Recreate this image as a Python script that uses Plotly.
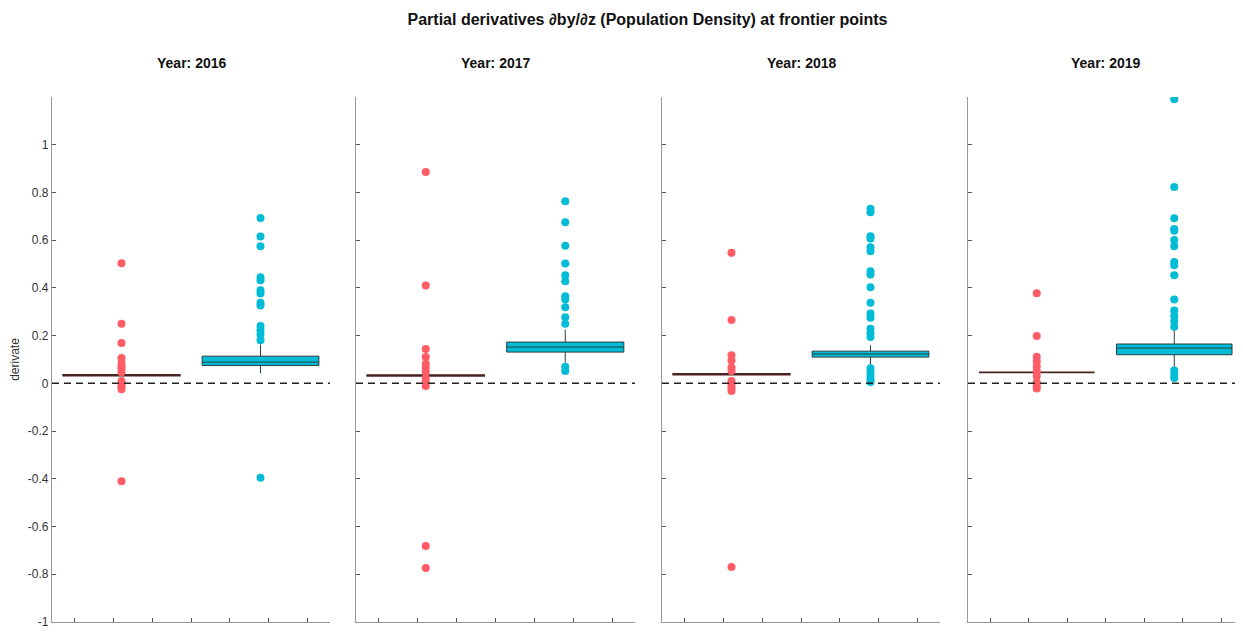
import plotly.graph_objects as go
from plotly.subplots import make_subplots

years = ["2016", "2017", "2018", "2019"]

# Box statistics (group A = red, group B = cyan)
red_q1 = [0.032, 0.031, 0.036, 0.046]
red_med = [0.034, 0.033, 0.038, 0.046]
red_q3 = [0.036, 0.035, 0.040, 0.046]
red_lo = [0.032, 0.031, 0.036, 0.046]
red_hi = [0.036, 0.035, 0.040, 0.046]

cyan_q1 = [0.075, 0.131, 0.110, 0.120]
cyan_med = [0.089, 0.152, 0.123, 0.148]
cyan_q3 = [0.114, 0.173, 0.135, 0.165]
cyan_lo = [0.042, 0.087, 0.075, 0.066]
cyan_hi = [0.163, 0.226, 0.160, 0.223]

# Outlier points
red_out = [
    [0.503, 0.25, 0.169, 0.106, 0.084, 0.072, 0.061, 0.047, 0.01, -0.004, -0.015, -0.025, -0.41],
    [0.886, 0.41, 0.144, 0.11, 0.082, 0.066, 0.049, 0.024, 0.007, -0.011, -0.682, -0.774],
    [0.547, 0.266, 0.118, 0.096, 0.066, 0.052, 0.01, -0.011, -0.022, -0.032, -0.77],
    [0.378, 0.198, 0.112, 0.093, 0.072, 0.052, 0.031, 0.006, -0.01, -0.022],
]
cyan_out = [
    [0.693, 0.615, 0.575, 0.445, 0.432, 0.39, 0.377, 0.338, 0.326, 0.24, 0.223, 0.205, 0.181, -0.396],
    [0.763, 0.675, 0.577, 0.502, 0.453, 0.428, 0.365, 0.351, 0.319, 0.277, 0.25, 0.07, 0.052],
    [0.732, 0.717, 0.616, 0.607, 0.57, 0.554, 0.47, 0.456, 0.403, 0.338, 0.293, 0.275, 0.229,
     0.209, 0.194, 0.063, 0.047, 0.031, 0.017, 0.006],
    [1.191, 0.823, 0.692, 0.647, 0.639, 0.601, 0.575, 0.509, 0.495, 0.453, 0.351, 0.305, 0.282,
     0.261, 0.237, 0.054, 0.038, 0.022],
]

y_tickvals = [1, 0.8, 0.6, 0.4, 0.2, 0, -0.2, -0.4, -0.6, -0.8, -1]
y_ticktext = ["1", "0.8", "0.6", "0.4", "0.2", "0", "-0.2", "-0.4", "-0.6", "-0.8", "-1"]
x_tickvals = [0.66, 0.94, 1.22, 1.5, 1.78, 2.06, 2.34]

RED = "#FF5C66"
CYAN = "#00BCD6"
RED_BOX_LINE = "#4a2222"
CYAN_BOX_LINE = "#2a3f44"

fig = make_subplots(rows=1, cols=4)

for i in range(4):
    col = i + 1
    fig.add_trace(go.Box(
        x=[1], q1=[red_q1[i]], median=[red_med[i]], q3=[red_q3[i]],
        lowerfence=[red_lo[i]], upperfence=[red_hi[i]],
        width=0.84, whiskerwidth=0, boxpoints=False,
        fillcolor=RED, line=dict(color=RED_BOX_LINE, width=1.6),
        showlegend=False, hoverinfo="skip"), row=1, col=col)
    fig.add_trace(go.Box(
        x=[2], q1=[cyan_q1[i]], median=[cyan_med[i]], q3=[cyan_q3[i]],
        lowerfence=[cyan_lo[i]], upperfence=[cyan_hi[i]],
        width=0.84, whiskerwidth=0, boxpoints=False,
        fillcolor=CYAN, line=dict(color=CYAN_BOX_LINE, width=1),
        showlegend=False), row=1, col=col)
    fig.add_trace(go.Scatter(
        x=[1] * len(red_out[i]), y=red_out[i], mode="markers",
        marker=dict(color=RED, size=8), showlegend=False), row=1, col=col)
    fig.add_trace(go.Scatter(
        x=[2] * len(cyan_out[i]), y=cyan_out[i], mode="markers",
        marker=dict(color=CYAN, size=8), showlegend=False), row=1, col=col)
    fig.add_hline(y=0, line=dict(color="#222222", width=1.5, dash="7px,5px"), row=1, col=col)

# The page body adds an 8px offset; size the figure so it fills the window.
OFF = 8
W, H = 1243 - OFF, 632 - OFF
ml, mr, mt, mb = 52 - OFF, 0, 97 - OFF, 10
pw = W - ml - mr
ph = H - mt - mb
panels = [(52, 330), (356, 635), (662, 940), (968, 1246)]
domains = [[(a - OFF - ml) / pw, min(1.0, (b - OFF - ml) / pw)] for a, b in panels]

for i in range(4):
    xa = "xaxis" if i == 0 else f"xaxis{i+1}"
    ya = "yaxis" if i == 0 else f"yaxis{i+1}"
    fig.layout[xa].update(
        domain=domains[i], range=[0.5, 2.5], tickvals=x_tickvals, ticktext=[""] * 7,
        ticks="inside", ticklen=4, tickcolor="#555555", showline=True,
        linecolor="#999999", linewidth=1.2, showgrid=False, zeroline=False, fixedrange=True)
    fig.layout[ya].update(
        range=[-1, 1.2], tickvals=y_tickvals, ticktext=y_ticktext,
        showticklabels=(i == 0), ticks="inside", ticklen=4, tickcolor="#555555",
        showline=True, linecolor="#999999", linewidth=1.2, showgrid=False, zeroline=False,
        tickfont=dict(size=12, color="#333333"))
    fig.add_annotation(
        text=f"<b>Year: {years[i]}</b>", xref="paper", yref="paper",
        x=(domains[i][0] + domains[i][1]) / 2, y=1 + 34 / ph,
        xanchor="center", yanchor="middle", showarrow=False,
        font=dict(size=14, color="#111111"))

fig.layout.yaxis.title = dict(text="derivate", font=dict(size=12, color="#333333"), standoff=6)

fig.update_layout(
    width=W, height=H,
    margin=dict(l=ml, r=mr, t=mt, b=mb),
    paper_bgcolor="white", plot_bgcolor="white",
    font=dict(family="Liberation Sans, Arial, sans-serif", color="#222222"),
    title=dict(text="<b>Partial derivatives ∂by/∂z (Population Density) at frontier points</b>",
               xref="paper", x=0.5, xanchor="center", y=1 - (19 - OFF) / H, yanchor="middle",
               font=dict(size=16, color="#111111")),
    showlegend=False,
)

fig.write_html("out.html")
